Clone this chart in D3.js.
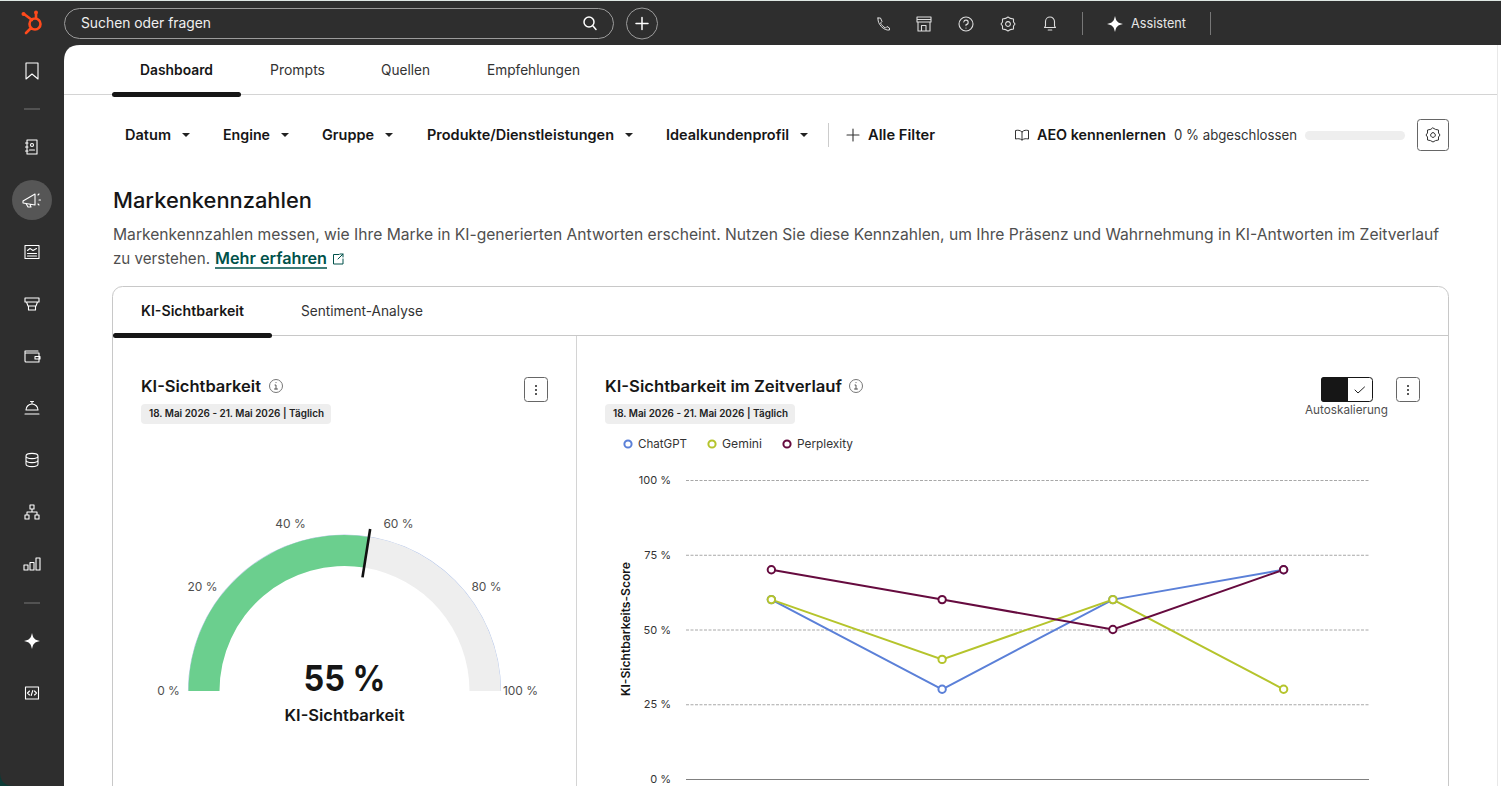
<!DOCTYPE html>
<html lang="de">
<head>
<meta charset="utf-8">
<title>KI-Sichtbarkeit</title>
<script src="https://cdn.jsdelivr.net/npm/d3@7"></script>
<style>
  html, body { margin: 0; padding: 0; background: #2e2e2e; overflow: hidden; }
  svg { display: block; }
  text { font-family: Inter, "Noto Sans", sans-serif; }
  .ic { fill: none; stroke-linecap: round; stroke-linejoin: round; }
</style>
</head>
<body>
<div id="page"></div>
<script>
// chart values
const days = ["18. Mai", "19. Mai", "20. Mai", "21. Mai"];
const chatgpt = [60, 30, 60, 70];
const gemini = [60, 40, 60, 30];
const perplexity = [70, 60, 50, 70];
const seriesNames = ["ChatGPT", "Gemini", "Perplexity"];
const seriesColors = ["#5b80d8", "#b5c42c", "#660b3f"];
const yTicks = [0, 25, 50, 75, 100];

const gaugeValue = 55;
const gaugeTicks = [0, 20, 40, 60, 80, 100];

// page labels
const navTabs = ["Dashboard", "Prompts", "Quellen", "Empfehlungen"];
const filters = ["Datum", "Engine", "Gruppe", "Produkte/Dienstleistungen", "Idealkundenprofil"];

const dark = "#2e2e2e", ink = "#161616", grey = "#4f4f4f";

const svg = d3.select("#page").append("svg")
    .attr("width", 1501)
    .attr("height", 786);

function label(parent, x, y, str, size, opts) {
    opts = opts || {};
    let t = parent.append("text")
        .attr("x", x)
        .attr("y", y)
        .attr("font-size", size)
        .attr("font-weight", opts.weight || 400)
        .attr("fill", opts.fill || ink)
        .attr("text-anchor", opts.anchor || "start")
        .text(str);
    if (opts.w) t.attr("textLength", opts.w).attr("lengthAdjust", "spacingAndGlyphs");
    return t;
}

function icon(parent, x, y, d, color, width) {
    return parent.append("path")
        .attr("class", "ic")
        .attr("transform", "translate(" + x + "," + y + ")")
        .attr("d", d)
        .attr("stroke", color || "#fff")
        .attr("stroke-width", width || 1.3);
}

const sparkle = "M0,-8 C1.2,-2.5 2.5,-1.2 8,0 C2.5,1.2 1.2,2.5 0,8 C-1.2,2.5 -2.5,1.2 -8,0 C-2.5,-1.2 -1.2,-2.5 0,-8Z";
const gear = "M0,-7 L2.5,-5.6 L5.5,-5 L5.5,-2 L7,0 L5.5,2 L5.5,5 L2.5,5.6 L0,7 L-2.5,5.6 L-5.5,5 L-5.5,2 L-7,0 L-5.5,-2 L-5.5,-5 L-2.5,-5.6Z M0,-2.4 A2.4,2.4 0 1 1 -0.01,-2.4";

// dark frame
svg.append("rect").attr("width", 1501).attr("height", 786).attr("fill", dark);
svg.append("rect").attr("width", 1501).attr("height", 1).attr("fill", "#dfe8e4");
svg.append("path").attr("d", "M0,772 Q0,786 14,786 L0,786Z").attr("fill", "#0d3b36");

function drawTopBar() {
    const g = svg.append("g");
    // logo
    icon(g, 35, 24, "M-5.5,0 A5.5,5.5 0 1 1 5.5,0 A5.5,5.5 0 1 1 -5.5,0 M-3,-4 L-11,-10 M1,-5.5 L1,-10 M-4,4 L-9,9", "#ff4a1c", 2.6);
    g.append("circle").attr("cx", 23.5).attr("cy", 14).attr("r", 2).attr("fill", "#ff4a1c");
    g.append("circle").attr("cx", 36).attr("cy", 12.5).attr("r", 2).attr("fill", "#ff4a1c");

    g.append("rect").attr("x", 64.5).attr("y", 8.5).attr("width", 549).attr("height", 30).attr("rx", 15)
        .attr("fill", "none").attr("stroke", "#9b9b9b");
    label(g, 81, 28, "Suchen oder fragen", 14, { fill: "#f0f0f0", w: 130 });
    icon(g, 589, 22, "M-5,0 A5,5 0 1 1 5,0 A5,5 0 1 1 -5,0 M3.6,3.6 L7,7.5", "#fff", 1.5);
    g.append("circle").attr("cx", 642).attr("cy", 23.5).attr("r", 15.5).attr("fill", "none").attr("stroke", "#9b9b9b");
    icon(g, 642, 23.5, "M-6,0 L6,0 M0,-6 L0,6", "#fff", 1.5);

    // right icons
    icon(g, 883, 24, "M-5,-6 L-2.5,-6 L-1,-2.5 L-2.5,-1 C-1.5,1 0.5,3 2.5,4 L4,2.5 L6.5,4 L6.5,6 C1,7 -6,0 -5,-6Z", "#ddd", 1);
    icon(g, 924, 24, "M-7,-7 L7,-7 L7,-2 L-7,-2Z M-7,-4.5 L7,-4.5 M-6,-2 L-6,7 L6,7 L6,-2 M-2.5,7 L-2.5,1.5 L2,1.5 L2,7", "#ddd", 1.1);
    icon(g, 966, 24, "M-7,0 A7,7 0 1 1 7,0 A7,7 0 1 1 -7,0 M-2.2,-2 A2.2,2.2 0 1 1 0,0.5 L0,1.6 M0,4 L0,4.1", "#ddd", 1.1);
    icon(g, 1008, 24, gear, "#ddd", 1.1);
    icon(g, 1050, 24, "M-5.5,3.5 L-4.5,2 L-4.5,-2.5 A4.5,4.5 0 0 1 4.5,-2.5 L4.5,2 L5.5,3.5Z M-1.8,6 L1.8,6", "#ddd", 1.1);
    g.append("line").attr("x1", 1082.5).attr("x2", 1082.5).attr("y1", 12).attr("y2", 35).attr("stroke", "#777");
    g.append("line").attr("x1", 1210.5).attr("x2", 1210.5).attr("y1", 12).attr("y2", 35).attr("stroke", "#777");
    g.append("path").attr("transform", "translate(1115,24)").attr("d", sparkle).attr("fill", "#fff");
    label(g, 1131, 28, "Assistent", 13, { fill: "#e6e6e6", w: 55 });
}

function drawSideBar() {
    const g = svg.append("g");
    const sep = y => g.append("line").attr("x1", 24).attr("x2", 40).attr("y1", y).attr("y2", y).attr("stroke", "#777");
    sep(109);
    sep(603);
    g.append("circle").attr("cx", 32).attr("cy", 200).attr("r", 20).attr("fill", "#565656");

    icon(g, 32, 71, "M-6,-8 L6,-8 L6,8 L0,3 L-6,8Z", "#fff", 1.1);
    icon(g, 32, 147, "M-5,-7 L5,-7 L5,7 L-5,7Z M-6.5,-4 L-4,-4 M-6.5,0 L-4,0 M-6.5,4 L-4,4 M-1.5,-2 A1.5,1.5 0 1 1 1.5,-2 A1.5,1.5 0 1 1 -1.5,-2 M-2.5,3 L2.5,3", "#fff", 1.1);
    icon(g, 31, 200, "M-8,1 L4,-6 L4,5 L-8,3Z M-5,3.5 L-3,7 L0,7 L-1,4.5 M7,-5 L8,-6 M8,0 L9.5,0 M7,4 L8,5", "#fff", 1.1);
    icon(g, 32, 252, "M-7,-6.5 L7,-6.5 L7,6.5 L-7,6.5Z M-4.5,-1.5 L-2,-3.5 L1,-1.5 L4.5,-3.5 M-4.5,1.5 L4.5,1.5 M-4.5,4 L4.5,4", "#fff", 1.1);
    icon(g, 32, 304, "M-7,-6 L7,-6 L7,-2 L-7,-2Z M-5.5,-2 L-4,2 L4,2 L5.5,-2 M-3.5,2 L-3.5,6 L3.5,6 L3.5,2", "#fff", 1.1);
    icon(g, 32, 356, "M-7,-5 L6,-5 M-7,-5 L-7,5 Q-7,6 -6,6 L7,6 L7,-3 L-6,-3 M3,0.5 L8,0.5 L8,3 L3,3Z", "#fff", 1.1);
    icon(g, 32, 408, "M-6,2 A6,6 0 0 1 6,2Z M-7,6 L7,6 M0,-4 L0,-6 M-1.5,-6.5 L1.5,-6.5", "#fff", 1.1);
    icon(g, 32, 460, "M-6,-4 A6,2.6 0 1 1 6,-4 A6,2.6 0 1 1 -6,-4 M-6,-4 L-6,4 A6,2.6 0 0 0 6,4 L6,-4 M-6,0 A6,2.6 0 0 0 6,0", "#fff", 1.1);
    icon(g, 32, 512, "M-2,-7 L2,-7 L2,-3 L-2,-3Z M-7,3 L-3,3 L-3,7 L-7,7Z M3,3 L7,3 L7,7 L3,7Z M0,-3 L0,0 M-5,3 L-5,0 L5,0 L5,3", "#fff", 1.1);
    icon(g, 32, 564, "M-8,1 L-4,1 L-4,6 L-8,6Z M-2,-1.5 L2,-1.5 L2,6 L-2,6Z M4,-6 L8,-6 L8,6 L4,6Z", "#fff", 1.1);
    g.append("path").attr("transform", "translate(32,641)").attr("d", sparkle).attr("fill", "#fff");
    icon(g, 32, 693, "M-6.5,-6 L6.5,-6 L6.5,6 L-6.5,6Z M-2.5,-2 L-4.5,0 L-2.5,2 M2.5,-2 L4.5,0 L2.5,2 M0.8,-2.5 L-0.8,2.5", "#fff", 1.1);
}

function drawHeader(g) {
    // navigation tabs
    const navX = [140, 270, 381, 487], navW = [73, 55, 49, 93];
    navTabs.forEach((t, i) => label(g, navX[i], 75, t, 14, { weight: i == 0 ? 600 : 400, fill: i == 0 ? ink : "#333", w: navW[i] }));
    g.append("line").attr("x1", 64).attr("x2", 1497).attr("y1", 94.5).attr("y2", 94.5).attr("stroke", "#d4d4d4");
    g.append("rect").attr("x", 112).attr("y", 92).attr("width", 129).attr("height", 5).attr("rx", 2.5).attr("fill", ink);
    g.append("line").attr("x1", 1497.5).attr("x2", 1497.5).attr("y1", 45).attr("y2", 786).attr("stroke", "#e8e8e8");

    // filter row
    const fX = [125, 223, 322, 427, 666], fW = [46, 47, 52, 187, 123];
    filters.forEach((t, i) => {
        label(g, fX[i], 140, t, 14, { weight: 600, w: fW[i] });
        const cx = fX[i] + fW[i] + 15;
        g.append("path").attr("d", "M" + (cx - 4) + ",133 L" + (cx + 4) + ",133 L" + cx + ",137Z").attr("fill", "#222");
    });
    g.append("line").attr("x1", 828.5).attr("x2", 828.5).attr("y1", 123).attr("y2", 147).attr("stroke", "#ccc");
    icon(g, 853, 135, "M-6,0 L6,0 M0,-6 L0,6", "#333", 1.1);
    label(g, 868, 140, "Alle Filter", 14, { weight: 600, w: 67 });
    icon(g, 1022, 135, "M0,-3 C-2,-5 -4,-5 -6.5,-4.5 L-6.5,4 C-4,3.5 -2,3.5 0,5 C2,3.5 4,3.5 6.5,4 L6.5,-4.5 C4,-5 2,-5 0,-3 L0,5", "#333", 1);
    label(g, 1037, 140, "AEO kennenlernen", 14, { weight: 600, w: 129 });
    label(g, 1174, 140, "0 % abgeschlossen", 14, { fill: "#333", w: 123 });
    g.append("rect").attr("x", 1305).attr("y", 131).attr("width", 100).attr("height", 9).attr("rx", 4.5).attr("fill", "#eeeeee");
    g.append("rect").attr("x", 1417.5).attr("y", 119.5).attr("width", 31).attr("height", 31).attr("rx", 3)
        .attr("fill", "#fff").attr("stroke", "#666");
    icon(g, 1433, 135, gear, "#333", 1);

    // heading
    label(g, 113, 208, "Markenkennzahlen", 21, { weight: 500, w: 199 });
    label(g, 113, 240, "Markenkennzahlen messen, wie Ihre Marke in KI-generierten Antworten erscheint. Nutzen Sie diese Kennzahlen, um Ihre Präsenz und Wahrnehmung in KI-Antworten im Zeitverlauf", 16, { fill: grey, w: 1326 });
    label(g, 113, 264, "zu verstehen.", 16, { fill: grey, w: 97 });
    label(g, 215, 264, "Mehr erfahren", 16, { weight: 600, fill: "#00514a", w: 112 });
    g.append("line").attr("x1", 215).attr("x2", 327).attr("y1", 268).attr("y2", 268).attr("stroke", "#00514a").attr("stroke-width", 1.5);
    icon(g, 338, 259, "M1,-4.5 L-4.5,-4.5 L-4.5,5 L5,5 L5,0 M0,0 L5,-5 M2,-5 L5,-5 L5,-2", "#00514a", 1);
}

function drawCard(g) {
    g.append("rect").attr("x", 112.5).attr("y", 286.5).attr("width", 1336).attr("height", 560).attr("rx", 10)
        .attr("fill", "#fff").attr("stroke", "#c8c8c8");
    g.append("line").attr("x1", 113).attr("x2", 1448).attr("y1", 335.5).attr("y2", 335.5).attr("stroke", "#c8c8c8");
    g.append("line").attr("x1", 576.5).attr("x2", 576.5).attr("y1", 336).attr("y2", 786).attr("stroke", "#d4d4d4");
    g.append("rect").attr("x", 113).attr("y", 333).attr("width", 159).attr("height", 5).attr("rx", 2.5).attr("fill", ink);
    label(g, 141, 316, "KI-Sichtbarkeit", 14, { weight: 600, w: 103 });
    label(g, 301, 316, "Sentiment-Analyse", 14, { fill: "#333", w: 122 });

    drawPanelHead(g, 141, "KI-Sichtbarkeit", 120, 276);
    drawPanelHead(g, 605, "KI-Sichtbarkeit im Zeitverlauf", 237, 856);
    menuButton(g, 524);
    menuButton(g, 1396);

    // Autoskalierung switch
    g.append("rect").attr("x", 1321.5).attr("y", 377.5).attr("width", 51).attr("height", 24).attr("rx", 3)
        .attr("fill", "#fff").attr("stroke", ink);
    g.append("path").attr("d", "M1324,377 L1348,377 L1348,402 L1324,402 Q1321,402 1321,399 L1321,380 Q1321,377 1324,377Z").attr("fill", ink);
    icon(g, 1360, 390, "M-5,0 L-2,3 L4.5,-3", "#222", 1);
    label(g, 1305, 414, "Autoskalierung", 12, { fill: grey, w: 83 });
}

function drawPanelHead(g, x, title, w, infoX) {
    label(g, x, 392, title, 16, { weight: 600, w: w });
    g.append("circle").attr("cx", infoX).attr("cy", 386).attr("r", 6.5).attr("fill", "none").attr("stroke", "#777");
    icon(g, infoX, 386, "M-1,-1 L0,-1 L0,3 M-1.5,3 L1.5,3 M0,-3.4 L0,-3.3", "#555", 1);
    g.append("rect").attr("x", x).attr("y", 404).attr("width", 190).attr("height", 20).attr("rx", 4).attr("fill", "#eeeeee");
    label(g, x + 8, 417, "18. Mai 2026 - 21. Mai 2026 | Täglich", 10, { weight: 600, fill: "#222", w: 175 });
}

function menuButton(g, x) {
    g.append("rect").attr("x", x + 0.5).attr("y", 377.5).attr("width", 23).attr("height", 24).attr("rx", 3)
        .attr("fill", "#fff").attr("stroke", "#666");
    [-4, 0, 4].forEach(d => g.append("circle").attr("cx", x + 12).attr("cy", 390 + d).attr("r", 1).attr("fill", "#222"));
}

function drawGauge(g) {
    const cx = 344.5, cy = 691;
    const angle = d3.scaleLinear().domain([0, 100]).range([-Math.PI / 2, Math.PI / 2]);
    const outer = 156, inner = 125;
    const arc = d3.arc().innerRadius(inner).outerRadius(outer);
    const gauge = g.append("g").attr("transform", "translate(" + cx + "," + cy + ")");

    gauge.append("path")
        .attr("d", d3.arc().innerRadius(outer - 0.2).outerRadius(outer + 0.6)({ startAngle: angle(0), endAngle: angle(100) }))
        .attr("fill", "#bccbea");
    gauge.append("path")
        .attr("d", arc({ startAngle: angle(gaugeValue), endAngle: angle(100) }))
        .attr("fill", "#eeeeee");
    gauge.append("path")
        .attr("d", arc({ startAngle: angle(0), endAngle: angle(gaugeValue) }))
        .attr("fill", "#6bcf8e");

    // needle at the value
    const a = angle(gaugeValue);
    gauge.append("line")
        .attr("x1", Math.sin(a) * 115).attr("y1", -Math.cos(a) * 115)
        .attr("x2", Math.sin(a) * 164).attr("y2", -Math.cos(a) * 164)
        .attr("stroke", "#111").attr("stroke-width", 2.6);

    // tick labels sit on a ring around the arc, the two ends are nudged outwards
    const ringX = { 0: -176, 20: -142, 40: -54, 60: 54, 80: 142, 100: 176 };
    const r = 175;
    gaugeTicks.forEach(t => {
        const b = angle(t);
        gauge.append("text")
            .attr("x", ringX[t])
            .attr("y", t == 0 || t == 100 ? 4 : -Math.cos(b) * r + 3)
            .attr("text-anchor", "middle")
            .attr("font-size", 12)
            .attr("fill", grey)
            .text(t + " %");
    });

    label(gauge, 0, 0, gaugeValue + " %", 36, { weight: 700, anchor: "middle", w: 82 });
    label(gauge, 0, 30, "KI-Sichtbarkeit", 16, { weight: 600, anchor: "middle", w: 120 });
}

function drawLines(g) {
    const x = d3.scaleBand().domain(days).range([686, 1369]);
    const y = d3.scaleLinear().domain([0, 100]).range([779, 480]);
    const px = d => x(d) + x.bandwidth() / 2;

    // legend
    const legendX = [628, 712, 787], textX = [638, 722, 797], textW = [49, 40, 56];
    seriesNames.forEach((n, i) => {
        g.append("circle").attr("cx", legendX[i]).attr("cy", 444).attr("r", 3.6)
            .attr("fill", "#fff").attr("stroke", seriesColors[i]).attr("stroke-width", 2);
        label(g, textX[i], 448, n, 12, { fill: "#333", w: textW[i] });
    });

    // y axis with dashed grid
    const yAxis = g.append("g")
        .attr("transform", "translate(686,0)")
        .call(d3.axisLeft(y).tickValues(yTicks).tickSize(-683).tickPadding(15).tickFormat(d => d + " %"));
    yAxis.select(".domain").remove();
    yAxis.selectAll("line")
        .attr("stroke-dasharray", d => d == 0 ? null : "3,1.5")
        .attr("stroke", d => d == 0 ? "#808080" : "#a8a8a8");
    yAxis.selectAll("text")
        .attr("font-family", "Inter, sans-serif")
        .attr("font-size", 11)
        .attr("fill", "#333");

    g.append("text")
        .attr("transform", "translate(630,629) rotate(-90)")
        .attr("text-anchor", "middle")
        .attr("font-size", 11.5)
        .attr("font-weight", 600)
        .attr("fill", ink)
        .attr("textLength", 134)
        .attr("lengthAdjust", "spacingAndGlyphs")
        .text("KI-Sichtbarkeits-Score");

    const line = d3.line().x((d, i) => px(days[i])).y(d => y(d));
    [chatgpt, gemini, perplexity].forEach((vals, s) => {
        g.append("path")
            .datum(vals)
            .attr("d", line)
            .attr("fill", "none")
            .attr("stroke", seriesColors[s])
            .attr("stroke-width", 2);
    });
    [chatgpt, gemini, perplexity].forEach((vals, s) => {
        g.selectAll(".pt" + s)
            .data(vals)
            .enter()
            .append("circle")
            .attr("class", "pt" + s)
            .attr("cx", (d, i) => px(days[i]))
            .attr("cy", d => y(d))
            .attr("r", 3.7)
            .attr("fill", "#fff")
            .attr("stroke", seriesColors[s])
            .attr("stroke-width", 2);
    });
}

drawTopBar();
drawSideBar();

// white content panel
svg.append("path").attr("d", "M64,786 L64,61 Q64,45 80,45 L1501,45 L1501,786Z").attr("fill", "#fff");
const content = svg.append("g");
drawHeader(content);
drawCard(content);
drawGauge(content);
drawLines(content);
</script>
</body>
</html>
